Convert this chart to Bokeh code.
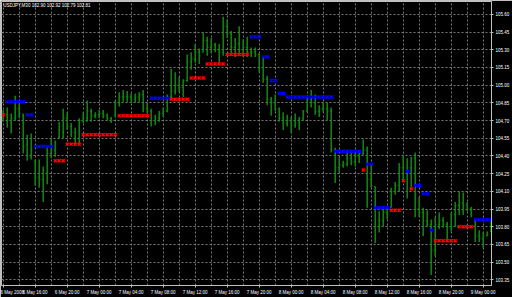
from bokeh.plotting import figure
from bokeh.models import FixedTicker, Label, Range1d
from bokeh.embed import file_html
from bokeh.resources import INLINE

# ---- data (USDJPY, M30 bars) ----
highs = [104.79, 104.81, 104.76, 104.91, 104.87, 104.76, 104.58, 104.59, 104.37, 104.37,
         104.31, 104.47, 104.55, 104.53, 104.69, 104.80, 104.77, 104.68, 104.64, 104.72,
         104.77, 104.87, 104.80, 104.77, 104.79, 104.79, 104.76, 104.73, 104.87, 104.94,
         104.96, 104.95, 104.93, 104.93, 104.94, 104.96, 104.85, 104.80, 104.75, 104.78,
         104.81, 104.92, 105.14, 105.11, 105.07, 105.05, 105.26, 105.28, 105.35, 105.31,
         105.45, 105.41, 105.40, 105.36, 105.35, 105.58, 105.56, 105.46, 105.40, 105.50,
         105.39, 105.41, 105.32, 105.32, 105.27, 105.23, 105.08, 104.90, 104.92, 104.81,
         104.77, 104.75, 104.73, 104.76, 104.73, 104.79, 104.91, 104.96, 104.92, 104.83,
         104.85, 104.85, 104.81, 104.47, 104.39, 104.36, 104.43, 104.43, 104.43, 104.43,
         104.54, 104.48, 104.34, 104.14, 103.93, 103.95, 103.97, 104.13, 104.18, 104.34,
         104.41, 104.38, 104.39, 104.43, 104.05, 103.96, 103.94, 103.86, 103.88, 103.92,
         103.88, 103.84, 103.92, 104.01, 104.10, 104.09, 104.01, 103.97, 103.86, 103.77,
         103.76, 103.76, 103.86]
lows = [104.69, 104.64, 104.59, 104.70, 104.72, 104.42, 104.36, 104.37, 104.15, 104.13,
        104.01, 104.16, 104.38, 104.39, 104.55, 104.55, 104.62, 104.56, 104.49, 104.49,
        104.68, 104.69, 104.69, 104.72, 104.72, 104.72, 104.70, 104.68, 104.73, 104.82,
        104.86, 104.86, 104.85, 104.85, 104.86, 104.77, 104.76, 104.65, 104.66, 104.69,
        104.73, 104.77, 104.89, 104.92, 104.94, 104.90, 105.03, 105.13, 105.19, 105.18,
        105.28, 105.25, 105.27, 105.28, 105.19, 105.25, 105.40, 105.27, 105.24, 105.27,
        105.24, 105.24, 105.24, 105.24, 105.11, 105.02, 104.83, 104.74, 104.78, 104.69,
        104.62, 104.65, 104.59, 104.64, 104.62, 104.70, 104.77, 104.81, 104.75, 104.73,
        104.77, 104.70, 104.43, 104.17, 104.26, 104.30, 104.31, 104.32, 104.31, 104.34,
        104.41, 103.96, 104.13, 103.66, 103.75, 103.80, 103.86, 103.96, 104.07, 104.10,
        104.20, 104.04, 104.13, 103.88, 103.88, 103.72, 103.80, 103.39, 103.55, 103.78,
        103.79, 103.67, 103.76, 103.80, 103.90, 103.90, 103.93, 103.88, 103.67, 103.67,
        103.62, 103.72, 103.76]
opens = [104.72, 104.75, 104.68, 104.72, 104.80, 104.74, 104.50, 104.40, 104.35, 104.22,
         104.20, 104.26, 104.42, 104.45, 104.56, 104.60, 104.72, 104.65, 104.60, 104.55,
         104.70, 104.72, 104.78, 104.74, 104.75, 104.76, 104.74, 104.72, 104.74, 104.85,
         104.90, 104.90, 104.90, 104.88, 104.90, 104.92, 104.80, 104.78, 104.70, 104.72,
         104.76, 104.78, 104.90, 104.95, 105.00, 104.98, 105.04, 105.20, 105.22, 105.28,
         105.28, 105.38, 105.32, 105.34, 105.30, 105.28, 105.50, 105.44, 105.32, 105.35,
         105.30, 105.32, 105.28, 105.28, 105.26, 105.15, 105.05, 104.88, 104.85, 104.80,
         104.72, 104.68, 104.70, 104.66, 104.68, 104.72, 104.78, 104.88, 104.85, 104.78,
         104.80, 104.80, 104.78, 104.45, 104.30, 104.32, 104.33, 104.38, 104.35, 104.40,
         104.42, 104.45, 104.20, 104.14, 103.80, 103.85, 103.92, 103.96, 104.10, 104.15,
         104.30, 104.25, 104.30, 104.38, 103.95, 103.92, 103.85, 103.82, 103.60, 103.82,
         103.85, 103.82, 103.80, 103.90, 103.98, 104.00, 103.98, 103.95, 103.86, 103.72,
         103.70, 103.72, 103.76]
closes = [104.75, 104.70, 104.72, 104.80, 104.76, 104.48, 104.40, 104.45, 104.22, 104.20,
          104.28, 104.42, 104.45, 104.50, 104.62, 104.72, 104.65, 104.60, 104.55, 104.70,
          104.72, 104.78, 104.74, 104.75, 104.76, 104.74, 104.72, 104.70, 104.85, 104.90,
          104.90, 104.90, 104.88, 104.90, 104.92, 104.80, 104.78, 104.70, 104.72, 104.76,
          104.78, 104.90, 104.95, 105.00, 104.98, 105.04, 105.20, 105.22, 105.28, 105.25,
          105.38, 105.32, 105.34, 105.30, 105.28, 105.50, 105.44, 105.32, 105.35, 105.30,
          105.32, 105.28, 105.28, 105.26, 105.15, 105.05, 104.88, 104.85, 104.80, 104.72,
          104.68, 104.70, 104.66, 104.68, 104.72, 104.78, 104.88, 104.85, 104.78, 104.80,
          104.80, 104.78, 104.45, 104.30, 104.32, 104.33, 104.38, 104.35, 104.40, 104.42,
          104.45, 104.20, 104.15, 103.80, 103.85, 103.92, 103.95, 104.10, 104.15, 104.30,
          104.25, 104.30, 104.38, 103.95, 103.92, 103.85, 103.82, 103.60, 103.82, 103.85,
          103.82, 103.80, 103.90, 103.98, 104.00, 103.98, 103.95, 103.90, 103.72, 103.70,
          103.72, 103.74, 103.82]
bar_index = list(range(len(highs)))

red_bars = [0, 13, 14, 15, 16, 17, 18, 19, 20, 21, 22, 23, 24, 25, 26, 27, 28,
            29, 30, 31, 32, 33, 34, 35, 36, 42, 43, 44, 45, 46, 47, 48, 49, 50,
            51, 52, 53, 54, 55, 56, 57, 58, 59, 60, 61, 90, 97, 98, 99, 100, 102,
            108, 109, 110, 111, 112, 113, 114, 115, 116, 117]
red_levels = [104.75, 104.36, 104.36, 104.36, 104.50, 104.50, 104.50, 104.50,
              104.58, 104.58, 104.58, 104.58, 104.58, 104.58, 104.58, 104.58, 104.58,
              104.74, 104.74, 104.74, 104.74, 104.74, 104.74, 104.74, 104.74,
              104.88, 104.88, 104.88, 104.88, 104.88, 105.06, 105.06, 105.06, 105.06,
              105.18, 105.18, 105.18, 105.18, 105.18, 105.26, 105.26, 105.26, 105.26,
              105.26, 105.26, 104.28, 103.94, 103.94, 103.94, 104.19, 104.12,
              103.68, 103.68, 103.68, 103.68, 103.68, 103.68, 103.80, 103.80, 103.80, 103.80]
blue_bars = [1, 2, 3, 4, 5, 6, 7, 8, 9, 10, 11, 12, 37, 38, 39, 40, 41, 62, 63, 64,
             65, 66, 67, 68, 69, 70, 71, 72, 73, 74, 75, 76, 77, 78, 79, 80, 81, 82,
             83, 84, 85, 86, 87, 88, 89, 91, 92, 93, 94, 95, 96, 101, 103, 104, 105, 106,
             107, 118, 119, 120, 121, 122]
blue_levels = [104.86, 104.86, 104.86, 104.86, 104.86, 104.75, 104.75,
               104.48, 104.48, 104.48, 104.48, 104.48, 104.89, 104.89, 104.89, 104.89, 104.89,
               105.41, 105.41, 105.41, 105.24, 105.24, 105.04, 105.04, 104.93, 104.93,
               104.90, 104.90, 104.90, 104.90, 104.90, 104.90, 104.90, 104.90, 104.90,
               104.90, 104.90, 104.90, 104.44, 104.44, 104.44, 104.44, 104.44, 104.44, 104.44,
               104.33, 104.33, 103.96, 103.96, 103.96, 103.96, 104.27, 104.15, 104.15,
               104.08, 104.08, 103.77, 103.86, 103.86, 103.86, 103.86, 103.86]

time_tick_bars = [0, 8, 16, 24, 32, 40, 48, 56, 64, 72, 80, 88, 96, 104, 112, 120]
time_tick_labels = ["6 May 2008", "6 May 16:00", "6 May 20:00", "7 May 00:00",
                    "7 May 04:00", "7 May 08:00", "7 May 12:00", "7 May 16:00",
                    "7 May 20:00", "8 May 00:00", "8 May 04:00", "8 May 08:00",
                    "8 May 12:00", "8 May 16:00", "8 May 20:00", "9 May 00:00"]
grid_bars = list(range(0, 123, 4))
price_ticks = [103.35, 103.50, 103.65, 103.80, 103.95, 104.10, 104.25, 104.40,
               104.55, 104.70, 104.85, 105.00, 105.15, 105.30, 105.45, 105.60]
price_labels = ["%.2f" % v for v in price_ticks]
title_text = "USDJPY,M30  102.90 102.92 102.79 102.81"

# ---- styling ----
BG = "black"
GRID = "#7a7a7a"
FRAME = "#c0c0c0"
TXT = "#ffffff"
BAR = "#009400"
FONT = "Liberation Sans"

p = figure(width=512, height=297, output_backend="svg", toolbar_location=None,
           x_range=Range1d(-0.425, 122.075), y_range=Range1d(103.3013, 105.7096),
           y_axis_location="right", min_border_left=1, min_border_top=1,
           min_border_right=21, min_border_bottom=11)
p.background_fill_color = BG
p.border_fill_color = BG
p.outline_line_color = FRAME
p.outline_line_width = 1

# axes
p.xaxis.ticker = FixedTicker(ticks=time_tick_bars)
p.xaxis.major_label_overrides = {b: t for b, t in zip(time_tick_bars, time_tick_labels)}
p.xaxis.major_label_text_align = "left"
p.yaxis.ticker = FixedTicker(ticks=price_ticks)
p.yaxis.major_label_overrides = {v: t for v, t in zip(price_ticks, price_labels)}
for ax in (p.xaxis, p.yaxis):
    ax.axis_line_color = FRAME
    ax.major_tick_line_color = FRAME
    ax.major_tick_out = 2
    ax.major_tick_in = 0
    ax.minor_tick_line_color = None
    ax.major_label_text_color = TXT
    ax.major_label_text_font = FONT
    ax.major_label_text_font_size = "4.5px"
    ax.major_label_standoff = 2

# grid
p.xgrid.ticker = FixedTicker(ticks=grid_bars)
for g in (p.xgrid, p.ygrid):
    g.grid_line_color = GRID
    g.grid_line_dash = "2 2"
    g.grid_line_width = 1

# OHLC bars
p.segment(x0=bar_index, y0=lows, x1=bar_index, y1=highs, line_color=BAR, line_width=1.5)
p.segment(x0=[i - 0.3 for i in bar_index], y0=opens, x1=bar_index, y1=opens,
          line_color=BAR, line_width=1)
p.segment(x0=bar_index, y0=closes, x1=[i + 0.3 for i in bar_index], y1=closes,
          line_color=BAR, line_width=1)

# level markers (small crosses)
p.scatter(x=red_bars, y=red_levels, marker="x", size=4.2,
          line_color="#ff0000", line_width=1.4)
p.scatter(x=blue_bars, y=blue_levels, marker="x", size=4.2,
          line_color="#0000ff", line_width=1.4)

# chart caption
p.add_layout(Label(x=0, y=105.695, text=title_text, text_color=TXT,
                   text_font=FONT, text_font_size="4.5px", text_baseline="top"))

open("out.html", "w").write(file_html(p, INLINE))
